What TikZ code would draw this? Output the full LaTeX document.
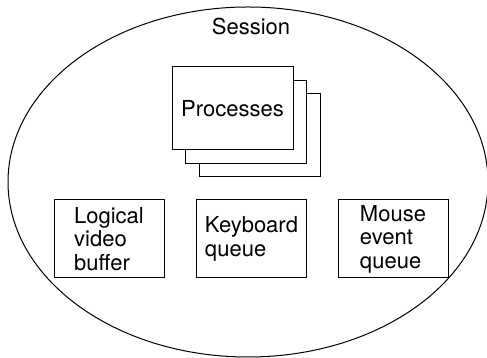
\documentclass[tikz,border=0pt]{standalone}
\usepackage{fontspec}
\setmainfont{TeX Gyre Heros}
\usetikzlibrary{positioning, shapes.geometric}

\begin{document}
\begin{tikzpicture}[x=0.5pt, y=0.5pt, font=\fontsize{11}{11.75}\selectfont, line width=0.5pt,
    procbox/.style={draw, fill=white, minimum width=60.5pt, minimum height=41.5pt, inner sep=0pt},
    queuebox/.style={draw, minimum width=55pt, minimum height=39pt, align=left, inner sep=0pt}]
    \useasboundingbox (0,0) rectangle (487,358);
    % session ellipse
    \node[draw, ellipse, minimum width=240pt, minimum height=175pt, inner sep=0pt] (session) at (248,176) {};
    \node[anchor=base] (sessionlabel) at (251,323) {Session};
    % stacked processes
    \node[procbox] (proc3) at (259.5,223) {};
    \node[procbox] (proc2) at (246,236) {};
    \node[procbox] (proc1) at (232.5,249.5) {Processes};
    % bottom row
    \node[queuebox] (video) at (109,119) {Logical\\video\\buffer};
    \node[queuebox] (keyboard) at (251.5,119) {Keyboard\\queue};
    \node[queuebox] (mouse) at (393,119) {Mouse\\event\\queue};
\end{tikzpicture}
\end{document}
